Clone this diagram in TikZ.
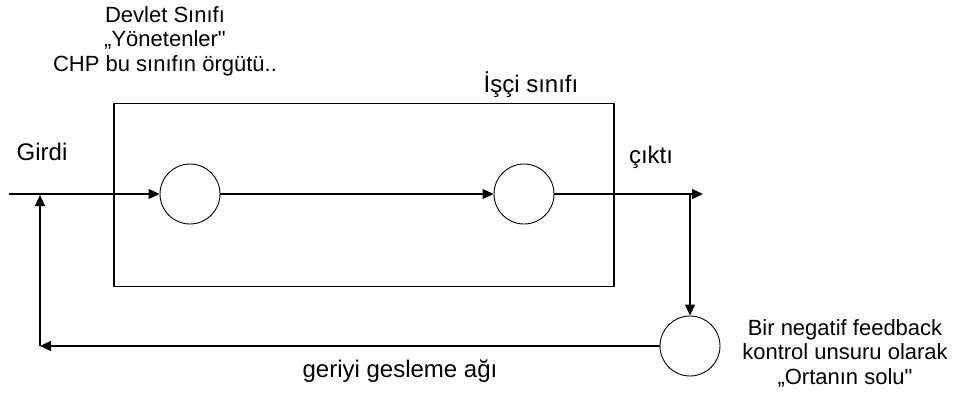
\documentclass[tikz,border=0pt]{standalone}
\usepackage{fontspec}
\setmainfont{Liberation Sans}[Ligatures=TeXOff]
\usetikzlibrary{arrows.meta}

\begin{document}
\begin{tikzpicture}[x=1pt,y=-1pt,>={Triangle[length=11pt,width=10pt]},line width=1.2pt,
    every node/.style={font=\fontsize{24}{21}\selectfont},
    stack/.style={align=center,font=\fontsize{22}{24.5}\selectfont},
    summer/.style={draw,circle,minimum size=60pt,inner sep=0pt,line width=0.9pt}]
    \useasboundingbox (0,0) rectangle (966,405);
    \node (box) [draw, minimum width=500pt, minimum height=183pt, inner sep=0pt] at (364,195) {};
    \coordinate (in) at (9,194);
    \node[summer] (s1) at (190,194) {};
    \node[summer] (s2) at (524,194) {};
    \coordinate (out) at (703,194);
    \coordinate (tap) at (690,194);
    \node[summer] (fb) at (690,346) {};
    \coordinate (back) at (40,346);
    \coordinate (join) at (40,195);
    \node (state) [stack] at (165,41) {Devlet Sınıfı\\„Yönetenler"\\CHP bu sınıfın örgütü..};
    \node (workers) at (531,85) {İşçi sınıfı};
    \node (input) at (42,152) {Girdi};
    \node (output) at (651,157) {çıktı};
    \node (loop) at (400,371) {geriyi gesleme ağı};
    \node (control) [stack] at (845,353) {Bir negatif feedback\\kontrol unsuru olarak\\„Ortanın solu"};
    \draw [->] (in) to (s1);
    \draw [->] (s1) to (s2);
    \draw [->] (s2) to (out);
    \draw [->] (tap) to (fb);
    \draw [->] (fb) to (back);
    \draw [->] (back) to (join);
  \end{tikzpicture}
\end{document}
